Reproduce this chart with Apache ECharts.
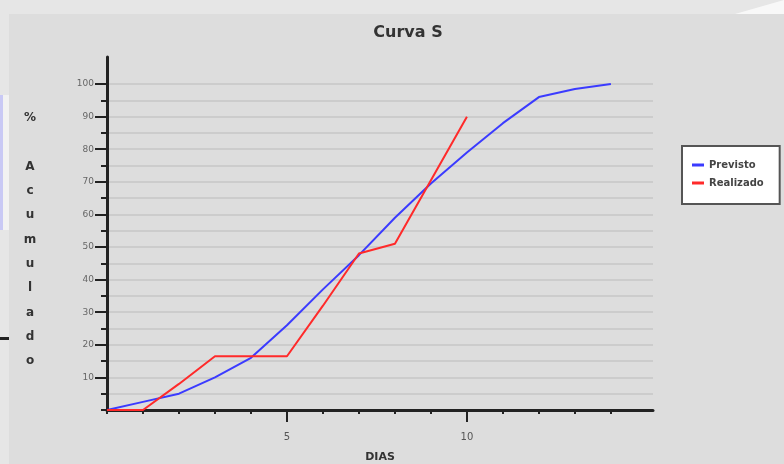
<!DOCTYPE html>
<html>
<head>
<meta charset="utf-8">
<script src="https://cdn.jsdelivr.net/npm/echarts@6/dist/echarts.min.js"></script>
<style>
html,body{margin:0;padding:0;background:#e6e6e6;}
#c{width:784px;height:464px;}
</style>
</head>
<body>
<div id="c"></div>
<script>
const dias = [0,1,2,3,4,5,6,7,8,9,10,11,12,13,14];
const previsto = [0,2.5,5,10,16,26,37,47.5,59,69.5,79,88,96,98.5,100];
const diasReal = [0,1,2,3,4,5,6,7,8,9,10];
const realizado = [0,0,8,16.5,16.5,16.5,32,48,51,70.5,90];
const yMinorTicks = [0,5,10,15,20,25,30,35,40,45,50,55,60,65,70,75,80,85,90,95,100];
const yLabels = [10,20,30,40,50,60,70,80,90,100];
const xMinorTicks = [0,1,2,3,4,6,7,8,9,11,12,13,14];
const xMajorTicks = [5,10];

const chart = echarts.init(document.getElementById('c'));
const font = 'DejaVu Sans';
chart.setOption({
  backgroundColor: '#e6e6e6',
  animation: false,
  graphic: [
    {type:'rect', shape:{x:9,y:14,width:775,height:450}, style:{fill:'#dddddd'}, z:-10},
    {type:'rect', shape:{x:0,y:95,width:3,height:135}, style:{fill:'#c9c9f5'}, z:-10},
    {type:'rect', shape:{x:3,y:95,width:6,height:135}, style:{fill:'#f2f2f2'}, z:-10},
    {type:'rect', shape:{x:0,y:337,width:9,height:3}, style:{fill:'#222'}, z:-10},
    {type:'polygon', shape:{points:[[735,14],[784,0],[784,14]]}, style:{fill:'#f8f8f8'}, z:-10}
  ],
  title: {
    text: 'Curva S', left: 403, top: 20, textAlign: 'center',
    textStyle: {fontFamily: font, fontSize: 16, fontWeight: 'bold', color: '#333'}
  },
  legend: {
    orient: 'vertical', left: 682, top: 146,
    backgroundColor: '#ffffff', borderColor: '#555', borderWidth: 2, borderRadius: 0,
    padding: [14, 16, 16, 10], itemGap: 8, itemWidth: 12, itemHeight: 3, icon: 'rect',
    textStyle: {fontFamily: font, fontSize: 10, fontWeight: 'bold', color: '#444', padding: [5,0,0,0]},
    data: ['Previsto', 'Realizado']
  },
  grid: {left: 107, right: 131, top: 57, bottom: 54, outerBoundsMode: 'none', containLabel: false},
  xAxis: [{
    type: 'value', min: 0, max: 15.17,
    name: 'DIAS', nameLocation: 'middle', nameGap: 42,
    nameTextStyle: {fontFamily: font, fontSize: 11, fontWeight: 'bold', color: '#333'},
    axisLine: {show: true, lineStyle: {color: '#222', width: 3}},
    axisTick: {show: true, customValues: xMinorTicks, length: 4, lineStyle: {color: '#222', width: 2}},
    axisLabel: {show: false},
    splitLine: {show: false}
  }, {
    type: 'value', min: 0, max: 15.17, position: 'bottom',
    axisLine: {show: false},
    axisTick: {show: true, customValues: xMajorTicks, length: 12, lineStyle: {color: '#222', width: 2}},
    axisLabel: {show: true, customValues: xMajorTicks, margin: 22, fontFamily: font, fontSize: 10, color: '#555'},
    splitLine: {show: false}
  }],
  yAxis: [{
    type: 'value', min: 0, max: 108.3,
    name: '{s| }\n{t|%}\n{t| }\n{t|A}\n{t|c}\n{t|u}\n{t|m}\n{t|u}\n{t|l}\n{t|a}\n{t|d}\n{t|o}',
    nameLocation: 'middle', nameRotate: 0, nameGap: 77,
    nameTextStyle: {
      fontFamily: font, fontSize: 12, fontWeight: 'bold', color: '#333', align: 'center', verticalAlign: 'middle',
      rich: {
        s: {lineHeight: 12, fontSize: 12, fontFamily: font},
        t: {lineHeight: 24.3, fontSize: 12, fontWeight: 'bold', fontFamily: font, color: '#333', align: 'center'}
      }
    },
    axisLine: {show: true, lineStyle: {color: '#222', width: 3}},
    axisTick: {show: true, customValues: yMinorTicks, length: 6, lineStyle: {color: '#222', width: 2}},
    axisLabel: {show: false},
    splitLine: {show: true, lineStyle: {color: '#cccccc', width: 2}}
  }, {
    type: 'value', min: 0, max: 108.3, position: 'left', offset: 0,
    axisLine: {show: false},
    axisTick: {show: true, customValues: yLabels, length: 12, lineStyle: {color: '#222', width: 2}},
    axisLabel: {show: true, customValues: yLabels, margin: 13, fontFamily: font, fontSize: 9, color: '#666'},
    splitLine: {show: false}
  }],
  series: [{
    name: 'Previsto', type: 'line', xAxisIndex: 0, yAxisIndex: 0,
    data: dias.map((d, i) => [d, previsto[i]]),
    showSymbol: false, lineStyle: {color: '#3b3bff', width: 2}, itemStyle: {color: '#3b3bff'}, z: 3
  }, {
    name: 'Realizado', type: 'line', xAxisIndex: 0, yAxisIndex: 0,
    data: diasReal.map((d, i) => [d, realizado[i]]),
    showSymbol: false, lineStyle: {color: '#ff2a2a', width: 2}, itemStyle: {color: '#ff2a2a'}, z: 4
  }]
});
</script>
</body>
</html>
